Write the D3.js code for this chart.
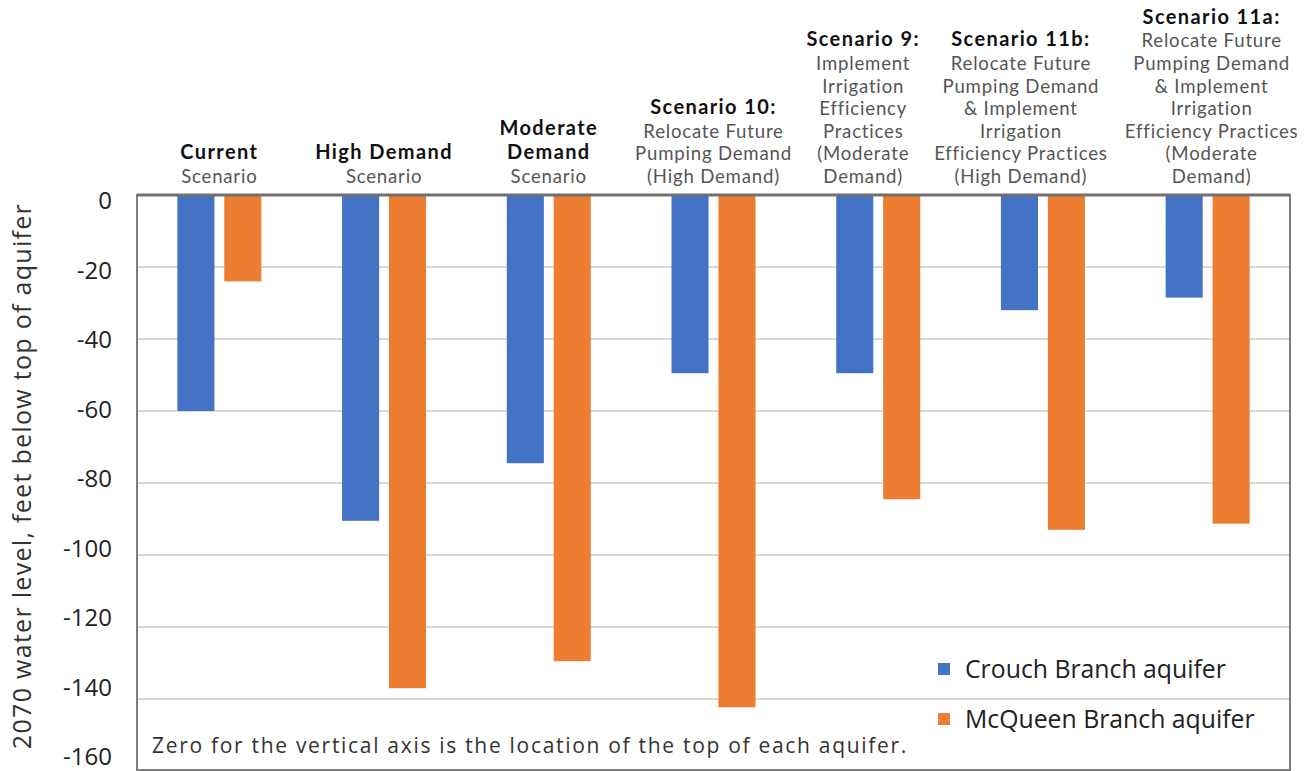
<!DOCTYPE html>
<html>
<head>
<meta charset="utf-8">
<script src="https://cdn.jsdelivr.net/npm/d3@7"></script>
<style>
  html, body { margin: 0; padding: 0; background: #fff; }
  svg { display: block; }
</style>
</head>
<body>
<svg id="chart" width="1309" height="771"></svg>
<script>
// ---- Data ----
const categories = ["Current", "High Demand", "Moderate Demand", "Scenario 10", "Scenario 9", "Scenario 11b", "Scenario 11a"];
const seriesNames = ["Crouch Branch aquifer", "McQueen Branch aquifer"];
const crouchValues = [-60, -90.5, -74.5, -49.5, -49.5, -32, -28.5];
const mcqueenValues = [-24, -137, -129.5, -142.3, -84.5, -93, -91.3];
const yTicks = [0, -20, -40, -60, -80, -100, -120, -140, -160];
const headerBold = [["Current"], ["High Demand"], ["Moderate", "Demand"], ["Scenario 10:"], ["Scenario 9:"], ["Scenario 11b:"], ["Scenario 11a:"]];
const headerSub = [
  ["Scenario"],
  ["Scenario"],
  ["Scenario"],
  ["Relocate Future", "Pumping Demand", "(High Demand)"],
  ["Implement", "Irrigation", "Efficiency", "Practices", "(Moderate", "Demand)"],
  ["Relocate Future", "Pumping Demand", "& Implement", "Irrigation", "Efficiency Practices", "(High Demand)"],
  ["Relocate Future", "Pumping Demand", "& Implement", "Irrigation", "Efficiency Practices", "(Moderate", "Demand)"]
];
const yTitle = "2070 water level, feet below top of aquifer";
const footnote = "Zero for the vertical axis is the location of the top of each aquifer.";
const colors = ["#4472C4", "#ED7D31"];

// ---- Layout ----
const svg = d3.select("#chart");
const plot = { left: 137, right: 1290, top: 195, bottom: 770 };
const headerShift = [0, 0, 0, 0, -15, -22, 4];

const x0 = d3.scaleBand().domain(categories).range([plot.left, plot.right]).padding(0);
const groupW = 84;
const x1 = d3.scaleBand().domain(seriesNames)
  .range([x0.bandwidth() / 2 - groupW / 2, x0.bandwidth() / 2 + groupW / 2])
  .paddingInner(0.21).paddingOuter(0);
const y = d3.scaleLinear().domain([0, -160]).range([plot.top, plot.bottom + 1]);
const yLabel = d3.scaleLinear().domain([0, -160]).range([plot.top + 6, 757]);
const color = d3.scaleOrdinal().domain(seriesNames).range(colors);

// gridlines
svg.append("g").selectAll("line").data(yTicks.filter(t => t !== 0 && t !== -160)).join("line")
  .attr("x1", plot.left).attr("x2", plot.right)
  .attr("y1", d => y(d)).attr("y2", d => y(d))
  .attr("stroke", "#d9d9d9").attr("stroke-width", 2);

// bars
const rows = categories.map((c, i) => ({ cat: c, vals: [crouchValues[i], mcqueenValues[i]] }));
const g = svg.append("g");
g.selectAll("g.cat").data(rows).join("g").attr("class", "cat")
  .attr("transform", d => `translate(${x0(d.cat)},0)`)
  .selectAll("rect").data(d => d.vals.map((v, j) => ({ s: seriesNames[j], v })))
  .join("rect")
  .attr("x", d => x1(d.s))
  .attr("width", x1.bandwidth())
  .attr("y", y(0))
  .attr("height", d => y(d.v) - y(0))
  .attr("fill", d => color(d.s));

// plot frame
svg.append("rect")
  .attr("x", plot.left).attr("y", plot.top)
  .attr("width", plot.right - plot.left).attr("height", plot.bottom - plot.top)
  .attr("fill", "none").attr("stroke", "#7f7f7f").attr("stroke-width", 2);
svg.append("line").attr("x1", plot.left).attr("x2", plot.right)
  .attr("y1", y(0)).attr("y2", y(0)).attr("stroke", "#707070").attr("stroke-width", 3);

// y tick labels
svg.append("g").selectAll("text").data(yTicks).join("text")
  .attr("x", 112).attr("y", d => yLabel(d))
  .attr("dy", "0.35em")
  .attr("text-anchor", "end")
  .attr("font-family", "'Open Sans', sans-serif")
  .attr("font-size", 24)
  .attr("fill", "#222")
  .text(d => String(d));

// y title
svg.append("text")
  .attr("transform", `translate(31,${476}) rotate(-90)`)
  .attr("text-anchor", "middle")
  .attr("font-family", "'Open Sans', sans-serif")
  .attr("font-size", 25)
  .attr("letter-spacing", 1.3)
  .attr("fill", "#333")
  .text(yTitle);

// headers
const subH = 22.6;
const boldH = 24;
const lastY = 183;
categories.forEach((c, i) => {
  const cx = x0(c) + x0.bandwidth() / 2 + headerShift[i];
  const lines = headerBold[i].map(t => ({ t, b: true })).concat(headerSub[i].map(t => ({ t, b: false })));
  let yy = lastY;
  const ys = new Array(lines.length);
  for (let k = lines.length - 1; k >= 0; k--) {
    ys[k] = yy;
    const next = lines[k - 1];
    if (next) yy -= (next.b && lines[k].b) ? boldH : (next.b ? subH + 1 : subH);
  }
  svg.append("g").selectAll("text").data(lines).join("text")
    .attr("x", cx)
    .attr("y", (d, k) => ys[k])
    .attr("text-anchor", "middle")
    .attr("font-family", "Lato, 'Open Sans', sans-serif")
    .attr("font-size", d => d.b ? 20 : 18.6)
    .attr("font-weight", d => d.b ? 700 : 400)
    .attr("letter-spacing", d => d.b ? 1.4 : 0.8)
    .attr("fill", d => d.b ? "#111" : "#555")
    .text(d => d.t);
});

// legend
const leg = svg.append("g").attr("transform", "translate(938,0)");
const legY = [669, 719];
seriesNames.forEach((s, i) => {
  leg.append("rect").attr("x", 0).attr("y", legY[i] - 6).attr("width", 12).attr("height", 12).attr("fill", color(s));
  leg.append("text").attr("x", 27).attr("y", legY[i]).attr("dy", "0.35em")
    .attr("font-family", "'Open Sans', sans-serif").attr("font-size", 24.8).attr("fill", "#222")
    .text(s);
});

// footnote
svg.append("text")
  .attr("x", 152).attr("y", 746).attr("dy", "0.35em")
  .attr("font-family", "'Open Sans', sans-serif")
  .attr("font-size", 21)
  .attr("letter-spacing", 1.7)
  .attr("fill", "#333")
  .text(footnote);
</script>
</body>
</html>
